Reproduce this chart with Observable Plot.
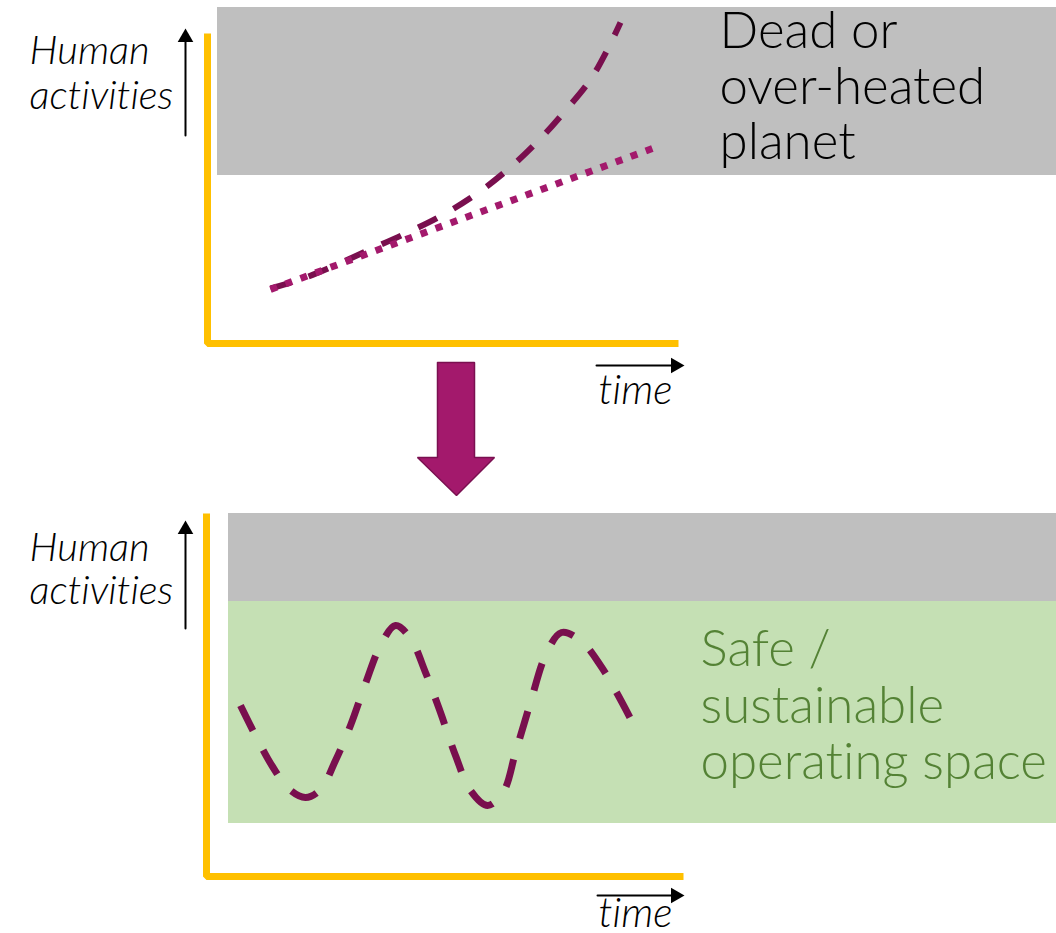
<!DOCTYPE html>
<html>
<head>
<meta charset="utf-8">
<script src="https://cdn.jsdelivr.net/npm/d3@7"></script>
<script src="https://cdn.jsdelivr.net/npm/@observablehq/plot@0.6"></script>
<style>
  html, body { margin: 0; padding: 0; background: #fff; }
  svg { display: block; }
  svg text { font-variant-ligatures: none; font-feature-settings: "liga" 0, "clig" 0, "dlig" 0; }
</style>
</head>
<body>
<div id="chart"></div>
<script>
// ---- data (diagram units) ----
const zones = [
  {name: "over-heated (before)", kind: "danger", x1: 217, x2: 1056, y1: 7,   y2: 175},
  {name: "over-heated (after)",  kind: "danger", x1: 228, x2: 1056, y1: 513, y2: 601},
  {name: "safe space",           kind: "safe",   x1: 228, x2: 1056, y1: 601, y2: 823}
];

const axisBefore = [[207, 33], [207, 343], [678, 343]];
const axisAfter  = [[206, 513], [206, 876], [683, 876]];

// exponential growth path (dashed)
const growthPath = [
  [270, 288], [300, 279], [330, 267], [365, 251], [405, 233], [443, 214],
  [478, 192], [512, 165], [541, 137], [565, 110], [590, 79], [608, 47], [620, 22]
];
// linear growth path (dotted)
const linearPath = [[270, 289], [652, 148]];

// oscillation inside the safe space (dashed)
const wavePath = [
  [240, 705], [256, 737], [272, 766], [289, 789], [305, 797], [320, 789],
  [335, 760], [350, 725], [365, 683], [380, 645], [395, 625], [410, 638],
  [425, 672], [440, 712], [455, 755], [470, 790], [487, 805], [503, 791],
  [515, 752], [530, 702], [545, 655], [561, 632], [581, 641], [600, 665],
  [615, 690], [630, 718]
];

// transition arrow between the two panels
const bigArrow = [
  [437, 362], [474, 362], [474, 457], [494, 457], [456, 495],
  [417, 457], [437, 457], [437, 362]
];

// axis direction arrows: shafts and tips
const upShafts   = [[[185, 135], [185, 40]], [[185, 628], [185, 532]]];
const upTips     = [[185, 28], [185, 520]];
const timeShafts = [[[596, 365], [672, 365]], [[597, 895], [673, 895]]];
const timeTips   = [[684, 365], [684, 895]];

// labels
const yLabels = [
  {text: "Human", x: 29, y: 63}, {text: "activities", x: 29, y: 108},
  {text: "Human", x: 29, y: 560}, {text: "activities", x: 29, y: 603}
];
const timeLabels = [{text: "time", x: 598, y: 403}, {text: "time", x: 598, y: 926}];
const dangerLabels = [
  {text: "Dead or", x: 719, y: 47},
  {text: "over-heated", x: 719, y: 103},
  {text: "planet", x: 719, y: 158}
];
const safeLabels = [
  {text: "Safe /", x: 700, y: 665},
  {text: "sustainable", x: 700, y: 722},
  {text: "operating space", x: 700, y: 778}
];

// ---- styles ----
const zoneFill = {danger: "#BFBFBF", safe: "#C5E0B4"};
const axisColor = "#FFC000";
const plum = "#790F4E";
const magenta = "#A3196C";
const font = "Lato, 'Open Sans', sans-serif";

const px = d => d[0], py = d => d[1];

const chart = Plot.plot({
  width: 1056,
  height: 933,
  margin: 0,
  x: {domain: [0, 1056], axis: null},
  y: {domain: [0, 933], reverse: true, axis: null},
  style: {fontFamily: font, background: "#fff"},
  marks: [
    Plot.rect(zones, {x1: "x1", x2: "x2", y1: "y1", y2: "y2", fill: d => zoneFill[d.kind]}),
    Plot.line(axisBefore, {x: px, y: py, stroke: axisColor, strokeWidth: 7, strokeLinejoin: "miter", strokeLinecap: "butt"}),
    Plot.line(axisAfter,  {x: px, y: py, stroke: axisColor, strokeWidth: 7, strokeLinejoin: "miter", strokeLinecap: "butt"}),
    Plot.line(growthPath, {x: px, y: py, curve: "catmull-rom", stroke: plum, strokeWidth: 6, strokeDasharray: "21,19", strokeLinecap: "butt"}),
    Plot.line(linearPath, {x: px, y: py, stroke: magenta, strokeWidth: 7, strokeDasharray: "7,9", strokeLinecap: "butt"}),
    Plot.line(wavePath, {x: px, y: py, curve: "catmull-rom", stroke: plum, strokeWidth: 7, strokeDasharray: "28,22", strokeLinecap: "butt"}),
    Plot.line(bigArrow, {x: px, y: py, fill: magenta, stroke: "#7A1050", strokeWidth: 1.5, strokeLinejoin: "miter"}),
    ...upShafts.map(s => Plot.line(s, {x: px, y: py, stroke: "black", strokeWidth: 2})),
    Plot.dot(upTips, {x: px, y: py, symbol: "triangle", r: 5.8, fill: "black", stroke: null, dy: 9}),
    ...timeShafts.map(s => Plot.line(s, {x: px, y: py, stroke: "black", strokeWidth: 2})),
    Plot.dot(timeTips, {x: px, y: py, symbol: "triangle", r: 5.8, fill: "black", stroke: null, rotate: 90, dx: -9}),
    Plot.text(yLabels, {x: "x", y: "y", text: "text", textAnchor: "start", lineAnchor: "bottom", fontSize: 40, fontWeight: 300, fontStyle: "italic", fill: "black"}),
    Plot.text(timeLabels, {x: "x", y: "y", text: "text", textAnchor: "start", lineAnchor: "bottom", fontSize: 41, fontWeight: 300, fontStyle: "italic", fill: "black"}),
    Plot.text(dangerLabels, {x: "x", y: "y", text: "text", textAnchor: "start", lineAnchor: "bottom", fontSize: 51, fontWeight: 300, fill: "black"}),
    Plot.text(safeLabels, {x: "x", y: "y", text: "text", textAnchor: "start", lineAnchor: "bottom", fontSize: 51, fontWeight: 300, fill: "#548235"})
  ]
});
document.getElementById("chart").appendChild(chart);
</script>
</body>
</html>
